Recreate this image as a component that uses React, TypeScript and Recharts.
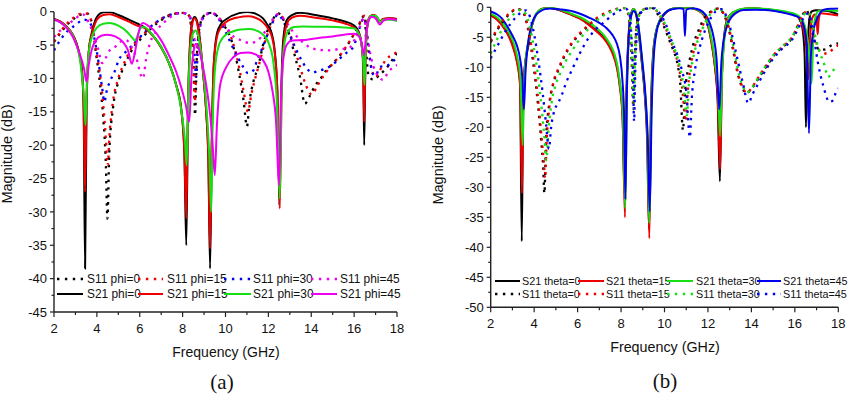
import React from 'react';
import { LineChart, Line, XAxis, YAxis } from 'recharts';

type P = [number, number][];

// ---------- tick values ----------
const freqTicks = [2, 3, 4, 5, 6, 7, 8, 9, 10, 11, 12, 13, 14, 15, 16, 17, 18];
const magTicksA = [0, -2.5, -5, -7.5, -10, -12.5, -15, -17.5, -20, -22.5, -25, -27.5, -30, -32.5, -35, -37.5, -40, -42.5, -45];
const magTicksB = [0, -2.5, -5, -7.5, -10, -12.5, -15, -17.5, -20, -22.5, -25, -27.5, -30, -32.5, -35, -37.5, -40, -42.5, -45, -47.5, -50];

// ---------- panel (a): phi ----------
const s11Phi0: P = [[2.0,-4.5],[2.3,-3.2],[2.6,-2],[3.0,-0.9],[3.3,-0.4],[3.55,-0.3],[3.75,-1.5],[3.95,-6],[4.15,-11],[4.3,-16],[4.42,-23],[4.49,-31],[4.58,-21],[4.75,-14.5],[5.0,-10.5],[5.3,-8],[5.7,-5.4],[6.17,-3.7],[6.5,-2.6],[6.8,-1.75],[7.2,-0.9],[7.56,-0.35],[8.1,-0.15],[8.3,-0.6],[8.42,-3],[8.52,-9],[8.58,-15.5],[8.65,-8],[8.78,-2.5],[9.0,-0.6],[9.35,-0.15],[9.7,-1],[10.0,-2.4],[10.3,-4.5],[10.6,-8.7],[10.85,-13.5],[11.0,-17.2],[11.12,-13.5],[11.3,-10.5],[11.53,-8.2],[11.75,-5],[11.92,-3.2],[12.2,-1.2],[12.46,-0.25],[12.7,-1.2],[13.0,-3.7],[13.25,-6.8],[13.47,-9.7],[13.7,-13.8],[13.9,-12.8],[14.2,-11],[14.4,-10.2],[14.7,-8.8],[15.03,-7.7],[15.35,-6.5],[15.65,-5.2],[15.95,-3.6],[16.2,-2.2],[16.4,-0.8],[16.5,-0.6],[16.58,-6.5],[16.67,-9.5],[16.9,-10.2],[17.2,-9.4],[17.44,-8.7],[17.83,-7],[18,-6.2]];
const s11Phi15: P = [[2.0,-4.5],[2.3,-3],[2.6,-1.8],[3.0,-0.7],[3.3,-0.3],[3.55,-0.3],[3.75,-1.5],[3.95,-5.5],[4.15,-9.5],[4.3,-14],[4.42,-19],[4.5,-23],[4.6,-18],[4.75,-13.5],[5.0,-10],[5.3,-7.5],[5.7,-5],[6.17,-3.4],[6.5,-2.3],[6.8,-1.5],[7.2,-0.7],[7.56,-0.3],[8.1,-0.15],[8.3,-0.6],[8.42,-3],[8.5,-8],[8.57,-13.5],[8.65,-7.5],[8.78,-2.5],[9.0,-0.6],[9.35,-0.15],[9.7,-0.9],[10.0,-2.2],[10.3,-4.2],[10.6,-7.8],[10.85,-12],[11.05,-15],[11.2,-12.5],[11.4,-9.8],[11.6,-7.5],[11.8,-5],[12.0,-3],[12.25,-1.2],[12.48,-0.3],[12.75,-1.3],[13.0,-3.2],[13.25,-5.8],[13.5,-8.5],[13.75,-11],[14.02,-12.4],[14.3,-11],[14.6,-9.5],[15.0,-7.8],[15.35,-6.5],[15.65,-5.1],[15.95,-3.6],[16.2,-2.1],[16.4,-0.8],[16.5,-0.6],[16.6,-4],[16.75,-7.5],[17.0,-9.8],[17.2,-8.8],[17.52,-7],[17.8,-6.5],[18,-6]];
const s11Phi30: P = [[2.0,-5.8],[2.3,-4.2],[2.6,-3],[3.0,-2],[3.4,-1.2],[3.65,-1.5],[3.85,-3.5],[4.05,-7],[4.25,-11.5],[4.35,-13.5],[4.45,-12],[4.6,-10.5],[4.8,-9.2],[5.03,-7.2],[5.42,-5.8],[5.8,-4.5],[6.2,-3.2],[6.6,-2],[7.0,-1.1],[7.5,-0.4],[8.0,-0.2],[8.3,-0.6],[8.45,-2.5],[8.55,-6],[8.63,-9.8],[8.72,-5],[8.85,-1.8],[9.1,-0.4],[9.35,-0.15],[9.7,-1.2],[10.0,-3],[10.36,-5.5],[10.6,-7],[10.83,-8.3],[11.05,-9.2],[11.3,-8.8],[11.5,-7],[11.7,-5.6],[11.95,-3.5],[12.2,-1.6],[12.45,-0.4],[12.7,-1.5],[13.0,-3.5],[13.3,-5.7],[13.55,-7.3],[13.79,-8.5],[14.05,-9.1],[14.3,-8.9],[14.6,-8.6],[14.87,-8.2],[15.34,-7],[15.7,-6],[15.96,-5.3],[16.2,-3],[16.45,-1],[16.55,-2],[16.7,-6],[16.85,-9.2],[17.0,-9.6],[17.2,-8.3],[17.6,-8],[17.9,-7.2],[18,-7]];
const s11Phi45: P = [[2.0,-3.8],[2.3,-2.8],[2.64,-2],[3.0,-1],[3.35,-0.4],[3.6,-1.5],[3.85,-3.5],[4.05,-5.5],[4.25,-7.7],[4.4,-7],[4.6,-5.8],[4.88,-5.2],[5.1,-4.5],[5.34,-4.2],[5.6,-5.2],[5.85,-7],[6.05,-9.5],[6.15,-10],[6.3,-7],[6.5,-4.5],[6.8,-2.8],[7.2,-1.4],[7.6,-0.5],[8.0,-0.2],[8.3,-0.5],[8.45,-2],[8.6,-4.2],[8.75,-2.5],[8.95,-0.9],[9.35,-0.2],[9.7,-1],[10.1,-2.6],[10.4,-3.8],[10.67,-4.2],[11.14,-4.7],[11.5,-4.3],[11.8,-3.2],[12.1,-1.6],[12.45,-0.4],[12.75,-1.2],[13.1,-2.8],[13.47,-4.2],[13.86,-5.2],[14.33,-5.7],[14.8,-5.8],[15.3,-5.6],[15.73,-5.5],[16.05,-4],[16.3,-2],[16.45,-1],[16.6,-3.5],[16.8,-7],[17.0,-9],[17.35,-10.2],[17.6,-9],[18,-8]];

const s21Phi0: P = [[2.0,-1.1],[2.3,-1.5],[2.6,-2.3],[2.85,-3.3],[3.05,-4.7],[3.2,-6.5],[3.3,-8.5],[3.38,-14],[3.45,-38.5],[3.52,-14],[3.62,-6],[3.76,-3.2],[3.9,-1.5],[4.0,-0.8],[4.3,-0.1],[4.6,-0.05],[5.0,-0.5],[5.5,-1.2],[5.9,-1.8],[6.2,-2.3],[6.6,-3.5],[7.0,-5.3],[7.4,-8],[7.7,-11],[7.95,-15],[8.08,-21],[8.17,-35],[8.25,-15],[8.35,-4.5],[8.45,-1.5],[8.56,-0.8],[8.68,-1.5],[8.8,-4],[8.95,-9],[9.1,-15],[9.2,-22],[9.28,-38.5],[9.36,-20],[9.45,-8],[9.6,-3.3],[9.8,-1.8],[10.05,-1.1],[10.6,-0.25],[11.05,-0.05],[11.4,-0.3],[11.75,-1],[12.0,-2.2],[12.15,-3.2],[12.3,-6],[12.42,-12],[12.51,-29],[12.6,-12],[12.7,-4],[12.85,-1.3],[13.1,-0.5],[13.47,-0.15],[14.2,-0.5],[15.0,-1],[15.6,-1.5],[15.96,-2],[16.2,-2.9],[16.33,-4.5],[16.42,-8],[16.47,-20],[16.53,-7],[16.62,-2],[16.75,-0.7],[16.9,-0.5],[17.05,-0.8],[17.2,-1.5],[17.35,-1.1],[17.7,-1.0],[18,-1.1]];
const s21Phi15: P = [[2.0,-1.1],[2.3,-1.5],[2.6,-2.3],[2.85,-3.3],[3.05,-4.8],[3.2,-6.7],[3.3,-9],[3.38,-14],[3.45,-27],[3.52,-13],[3.62,-6],[3.76,-3.4],[3.9,-1.9],[4.0,-1.2],[4.3,-0.5],[4.6,-0.4],[5.0,-0.8],[5.5,-1.5],[5.9,-2.1],[6.2,-2.4],[6.6,-3.6],[7.0,-5.4],[7.4,-8],[7.7,-11],[7.95,-15],[8.08,-21],[8.17,-31],[8.25,-14],[8.35,-4.6],[8.45,-1.8],[8.56,-1.0],[8.68,-1.8],[8.8,-4.2],[8.95,-9],[9.1,-15],[9.2,-22],[9.28,-35.5],[9.36,-19],[9.45,-8.2],[9.6,-3.8],[9.8,-2.3],[10.05,-1.5],[10.6,-0.85],[11.05,-0.7],[11.4,-0.9],[11.75,-1.6],[12.0,-2.6],[12.15,-3.6],[12.3,-6.3],[12.42,-12],[12.53,-29.5],[12.62,-12],[12.72,-4.5],[12.87,-1.8],[13.1,-0.9],[13.47,-0.6],[14.2,-0.9],[15.0,-1.3],[15.6,-1.8],[15.96,-2.3],[16.2,-3.1],[16.33,-4.6],[16.42,-7.5],[16.47,-16.5],[16.53,-7],[16.62,-2],[16.75,-0.7],[16.9,-0.5],[17.05,-0.8],[17.2,-1.5],[17.35,-1.1],[17.7,-1.0],[18,-1.1]];
const s21Phi30: P = [[2.0,-1.2],[2.3,-1.6],[2.6,-2.4],[2.85,-3.4],[3.05,-5],[3.2,-7],[3.3,-9.5],[3.4,-13],[3.47,-17],[3.54,-10],[3.65,-5.5],[3.8,-3.5],[4.0,-2.4],[4.3,-1.8],[4.6,-1.7],[5.0,-2.1],[5.4,-3],[5.65,-3.9],[5.78,-4.3],[5.9,-3.6],[6.05,-2.4],[6.2,-2.3],[6.6,-3.5],[7.0,-5.3],[7.4,-8],[7.7,-11],[7.95,-15],[8.1,-19],[8.19,-23],[8.27,-12],[8.37,-5.5],[8.48,-3.3],[8.6,-2.8],[8.72,-3.5],[8.85,-6],[9.0,-10],[9.15,-16],[9.25,-22],[9.33,-30],[9.4,-17],[9.5,-9],[9.65,-5.5],[9.9,-3.8],[10.3,-3],[10.7,-2.65],[11.1,-2.6],[11.5,-2.9],[11.8,-3.6],[12.05,-5],[12.25,-8],[12.4,-14],[12.53,-28],[12.62,-12],[12.72,-5.5],[12.9,-3],[13.2,-2.3],[13.6,-2.2],[14.5,-2.25],[15.5,-2.35],[16.0,-2.5],[16.2,-3.2],[16.33,-4.6],[16.42,-7],[16.48,-11],[16.55,-5],[16.65,-1.5],[16.8,-0.6],[16.95,-0.6],[17.1,-0.9],[17.22,-1.6],[17.35,-1.2],[17.7,-1.2],[18,-1.4]];
const s21Phi45: P = [[2.0,-1.2],[2.3,-1.6],[2.6,-2.5],[2.85,-3.6],[3.05,-5],[3.25,-6.8],[3.4,-8.5],[3.52,-10.5],[3.62,-8],[3.75,-5.8],[3.95,-4.3],[4.2,-3.6],[4.5,-3.45],[4.85,-3.7],[5.2,-4.5],[5.45,-5.8],[5.63,-7.8],[5.78,-6],[5.92,-3.5],[6.05,-2],[6.15,-1.7],[6.35,-2],[6.66,-2.8],[7.0,-4.3],[7.4,-6.8],[7.7,-9],[7.95,-11.5],[8.15,-14],[8.31,-16.5],[8.42,-9],[8.52,-5.7],[8.62,-4.8],[8.75,-5.5],[8.9,-7.5],[9.1,-11],[9.3,-16],[9.42,-21],[9.5,-24.5],[9.6,-17],[9.75,-11],[10.05,-8.2],[10.37,-6.8],[10.7,-6.2],[11.06,-6.1],[11.4,-6.4],[11.76,-7.3],[12.0,-9],[12.2,-12],[12.35,-16],[12.5,-26],[12.58,-14],[12.68,-7.5],[12.85,-5],[13.1,-4.3],[13.6,-4.25],[14.4,-3.9],[15.0,-3.7],[15.6,-3.4],[16.0,-3.3],[16.2,-3.6],[16.35,-4.6],[16.46,-6.5],[16.56,-3.5],[16.68,-1.3],[16.82,-0.75],[17.0,-1],[17.2,-1.9],[17.35,-1.4],[17.6,-1.1],[18,-1.2]];

// ---------- panel (b): theta ----------
const s21Theta0: P = [[2.0,-1.3],[2.3,-2],[2.58,-3.2],[2.85,-4.8],[3.04,-6.6],[3.2,-8.8],[3.35,-12.5],[3.43,-39],[3.5,-14],[3.6,-9],[3.73,-6.5],[3.89,-3.2],[4.05,-1.5],[4.2,-0.7],[4.42,-0.2],[4.7,-0.1],[5.0,-0.3],[5.34,-0.7],[5.7,-1.2],[6.1,-1.8],[6.57,-3],[6.9,-4],[7.18,-4.9],[7.45,-6.3],[7.64,-7.7],[7.82,-10],[7.95,-13],[8.07,-18],[8.17,-32],[8.25,-14],[8.35,-4.5],[8.45,-1.3],[8.57,-0.3],[8.7,-1.3],[8.82,-4.5],[8.95,-9],[9.1,-15],[9.2,-22],[9.29,-37],[9.37,-18],[9.47,-8],[9.6,-4.2],[9.8,-2.1],[10.05,-0.9],[10.4,-0.2],[10.8,-0.05],[11.2,-0.1],[11.5,-0.4],[11.78,-1.1],[11.95,-2.2],[12.09,-4.4],[12.22,-7],[12.32,-9.9],[12.45,-16],[12.55,-29],[12.63,-13],[12.72,-6],[12.86,-2.3],[13.05,-1.2],[13.32,-0.6],[13.7,-0.25],[14.08,-0.15],[14.6,-0.3],[15.2,-0.6],[15.7,-0.9],[16.0,-1.2],[16.2,-1.8],[16.35,-3.5],[16.45,-8],[16.51,-20],[16.58,-8],[16.67,-2],[16.77,-0.7],[17.0,-0.5],[17.5,-0.6],[17.8,-0.9],[18,-1.2]];
const s21Theta15: P = [[2.0,-1.4],[2.3,-2.1],[2.58,-3.3],[2.85,-5],[3.04,-6.8],[3.2,-9],[3.35,-13],[3.44,-31],[3.51,-13],[3.61,-8.5],[3.74,-6],[3.9,-3],[4.05,-1.4],[4.2,-0.6],[4.45,-0.15],[4.75,-0.1],[5.05,-0.35],[5.4,-0.8],[5.75,-1.3],[6.1,-1.9],[6.57,-3.1],[6.9,-4.1],[7.18,-5.1],[7.45,-6.5],[7.64,-8],[7.82,-10.3],[7.95,-13.5],[8.07,-18.5],[8.18,-35],[8.26,-14],[8.36,-4.5],[8.46,-1.3],[8.58,-0.3],[8.71,-1.3],[8.83,-4.5],[8.96,-9],[9.11,-15],[9.21,-22],[9.3,-38.5],[9.38,-18],[9.48,-8],[9.61,-4.2],[9.81,-2.1],[10.06,-0.9],[10.4,-0.2],[10.8,-0.05],[11.2,-0.1],[11.5,-0.45],[11.78,-1.2],[11.95,-2.3],[12.09,-4.5],[12.22,-7.2],[12.33,-10],[12.45,-15],[12.56,-27],[12.64,-12.5],[12.73,-6],[12.87,-2.4],[13.05,-1.2],[13.32,-0.6],[13.7,-0.2],[14.08,-0.1],[14.6,-0.3],[15.2,-0.6],[15.7,-1],[16.0,-1.3],[16.2,-1.9],[16.38,-3.5],[16.52,-6.5],[16.62,-12],[16.7,-5],[16.8,-1.8],[16.92,-1.2],[17.0,-2],[17.05,-4.5],[17.1,-2],[17.2,-1],[17.5,-1.1],[18,-1.35]];
const s21Theta30: P = [[2.0,-1.1],[2.3,-1.7],[2.58,-2.8],[2.85,-4.3],[3.06,-6],[3.22,-8.2],[3.37,-12],[3.47,-23],[3.55,-12],[3.65,-7.5],[3.78,-5],[3.93,-2.6],[4.08,-1.2],[4.25,-0.5],[4.5,-0.15],[4.8,-0.1],[5.1,-0.3],[5.45,-0.7],[5.8,-1.2],[6.15,-1.7],[6.6,-2.7],[6.95,-3.7],[7.22,-4.7],[7.5,-6.2],[7.68,-7.6],[7.85,-10],[7.98,-13.5],[8.09,-18.5],[8.19,-33.5],[8.27,-14],[8.37,-4.5],[8.47,-1.3],[8.59,-0.3],[8.72,-1.3],[8.84,-4.5],[8.97,-9],[9.12,-15],[9.22,-22],[9.3,-36],[9.39,-18],[9.49,-8],[9.62,-4],[9.82,-1.9],[10.07,-0.8],[10.4,-0.2],[10.8,-0.05],[11.2,-0.1],[11.5,-0.4],[11.8,-1.1],[11.97,-2.2],[12.11,-4.3],[12.24,-6.8],[12.35,-9.8],[12.47,-14],[12.56,-21.5],[12.65,-11],[12.75,-5.5],[12.89,-2.2],[13.07,-1.1],[13.34,-0.5],[13.7,-0.2],[14.1,-0.1],[14.6,-0.25],[15.2,-0.5],[15.7,-0.8],[16.0,-1.1],[16.25,-1.7],[16.45,-3],[16.62,-6],[16.77,-12.7],[16.85,-5],[16.95,-1.5],[17.1,-0.6],[17.5,-0.5],[18,-0.6]];
const s21Theta45: P = [[2.0,-0.7],[2.3,-1.2],[2.5,-1.8],[2.73,-3],[3.0,-4.7],[3.2,-6.3],[3.35,-8.5],[3.45,-11.5],[3.53,-17],[3.6,-11],[3.7,-6.5],[3.82,-3.8],[3.96,-2.1],[4.1,-1.2],[4.27,-0.7],[4.5,-0.3],[4.73,-0.2],[5.2,-0.35],[5.8,-0.7],[6.2,-1.2],[6.57,-1.8],[7.0,-2.6],[7.34,-3.5],[7.6,-4.6],[7.8,-6],[7.95,-8.2],[8.06,-12],[8.14,-18],[8.2,-32],[8.27,-14],[8.36,-4.5],[8.46,-1.5],[8.58,-0.6],[8.72,-1.4],[8.85,-4.5],[8.98,-9],[9.13,-15],[9.23,-22],[9.32,-34],[9.41,-17],[9.51,-8],[9.64,-4],[9.8,-2.2],[9.94,-1.3],[10.15,-0.6],[10.4,-0.3],[10.7,-0.15],[10.88,-0.3],[10.94,-4.8],[11.0,-0.4],[11.3,-0.15],[11.63,-0.45],[11.9,-1.3],[12.09,-2.7],[12.25,-4.8],[12.4,-8.8],[12.52,-17],[12.62,-9],[12.7,-6],[12.78,-4.4],[12.93,-2.6],[13.09,-1.6],[13.35,-0.8],[13.63,-0.45],[14.2,-0.4],[14.8,-0.5],[15.2,-0.7],[15.7,-1.1],[16.0,-1.4],[16.23,-1.8],[16.4,-3],[16.54,-6],[16.65,-21],[16.74,-8],[16.85,-4],[17.0,-2.1],[17.15,-1],[17.3,-0.45],[17.6,-0.25],[18,-0.2]];

const s11Theta0: P = [[2.0,-5.8],[2.3,-3.8],[2.6,-2.2],[2.9,-1],[3.2,-0.3],[3.45,-0.6],[3.65,-2.5],[3.85,-6.5],[4.05,-12],[4.2,-17],[4.32,-22],[4.42,-27],[4.47,-31],[4.55,-22],[4.7,-16],[4.9,-12.5],[5.11,-10.5],[5.35,-8.5],[5.57,-7],[5.85,-5.5],[6.19,-4.2],[6.55,-2.9],[6.95,-1.7],[7.3,-1],[7.57,-0.6],[8.1,-0.1],[8.3,-0.8],[8.42,-4],[8.5,-10],[8.57,-17],[8.63,-9],[8.72,-3],[8.9,-0.8],[9.15,-0.2],[9.4,-0.1],[9.7,-1.2],[9.95,-3],[10.2,-5.3],[10.4,-7.1],[10.6,-9.5],[10.72,-12.5],[10.85,-20.5],[10.95,-14],[11.1,-10],[11.3,-6.5],[11.55,-4],[11.8,-2],[12.1,-0.8],[12.45,-0.2],[12.7,-1],[12.95,-3.5],[13.15,-7],[13.4,-11.5],[13.6,-13.5],[13.75,-14.4],[13.95,-13.8],[14.3,-12],[14.7,-9.8],[15.08,-7.8],[15.45,-6.6],[15.85,-5.2],[16.15,-3],[16.4,-1],[16.55,-0.5],[16.7,-2.5],[16.9,-5.5],[17.15,-7.1],[17.4,-7],[17.7,-6.3],[18,-6]];
const s11Theta15: P = [[2.0,-5.6],[2.3,-3.6],[2.6,-2],[2.9,-0.9],[3.2,-0.3],[3.45,-0.5],[3.65,-2.3],[3.85,-6],[4.05,-11],[4.2,-16],[4.35,-22],[4.45,-26],[4.5,-28.5],[4.58,-22],[4.72,-16],[4.9,-12.3],[5.11,-10.3],[5.35,-8.3],[5.57,-6.8],[5.85,-5.3],[6.19,-4],[6.55,-2.8],[6.95,-1.6],[7.3,-0.9],[7.57,-0.5],[8.1,-0.1],[8.3,-0.8],[8.42,-4],[8.5,-9],[8.57,-16],[8.63,-8.5],[8.72,-3],[8.9,-0.8],[9.2,-0.15],[9.45,-0.1],[9.75,-1.2],[10.0,-3],[10.25,-5.3],[10.45,-7.3],[10.65,-9.8],[10.8,-13],[10.98,-19],[11.08,-13.5],[11.2,-10],[11.4,-6.5],[11.65,-4],[11.9,-2],[12.15,-0.8],[12.48,-0.2],[12.72,-1],[12.97,-3.5],[13.17,-7],[13.42,-11.5],[13.62,-13.5],[13.78,-14.3],[13.98,-13.6],[14.3,-11.8],[14.7,-9.6],[15.08,-7.7],[15.45,-6.5],[15.85,-5.1],[16.15,-3],[16.4,-1.1],[16.6,-0.6],[16.78,-3],[17.0,-6],[17.2,-7.5],[17.46,-7.7],[17.75,-7],[18,-6.3]];
const s11Theta30: P = [[2.0,-7.7],[2.3,-5.3],[2.6,-3.2],[2.9,-1.7],[3.2,-0.8],[3.4,-0.4],[3.6,-1],[3.8,-3.2],[4.0,-7],[4.18,-11.5],[4.35,-17],[4.48,-22],[4.56,-25.5],[4.65,-21],[4.8,-16],[5.0,-12.8],[5.2,-11],[5.45,-9],[5.7,-7.5],[6.0,-5.8],[6.35,-4.2],[6.75,-2.7],[7.1,-1.6],[7.45,-0.9],[7.8,-0.4],[8.15,-0.1],[8.33,-0.8],[8.45,-4],[8.52,-9],[8.58,-16],[8.65,-8.5],[8.75,-3],[8.9,-0.8],[9.2,-0.15],[9.45,-0.1],[9.8,-1.3],[10.05,-3],[10.3,-5.3],[10.5,-7.3],[10.7,-9.8],[10.87,-13],[11.03,-18],[11.12,-13],[11.25,-9.8],[11.45,-6.5],[11.7,-4],[11.95,-2],[12.2,-0.8],[12.5,-0.2],[12.75,-1.1],[13.0,-3.6],[13.2,-7],[13.45,-11.5],[13.65,-13.5],[13.8,-14.2],[14.0,-13.5],[14.3,-11.8],[14.7,-9.5],[15.08,-7.7],[15.45,-6.4],[15.85,-5],[16.15,-3.2],[16.4,-1.3],[16.62,-0.8],[16.85,-3.5],[17.1,-7],[17.35,-9.5],[17.53,-11.6],[17.77,-10.5],[18,-9.8]];
const s11Theta45: P = [[2.0,-8.5],[2.3,-6.5],[2.6,-4.5],[2.9,-2.8],[3.2,-1.5],[3.45,-0.7],[3.62,-0.5],[3.8,-1.5],[4.0,-4.5],[4.2,-9],[4.4,-14.5],[4.55,-19.5],[4.68,-23.6],[4.78,-20],[4.95,-17],[5.1,-16],[5.26,-14.7],[5.5,-12.3],[5.73,-10.5],[6.1,-7.7],[6.49,-5.2],[6.85,-3.6],[7.25,-2.4],[7.6,-1.3],[7.95,-0.5],[8.2,-0.2],[8.38,-1],[8.48,-5],[8.55,-11],[8.6,-19],[8.66,-10],[8.75,-3.5],[8.9,-1],[9.2,-0.2],[9.5,-0.1],[9.85,-1.4],[10.1,-3.2],[10.35,-5.8],[10.6,-8],[10.8,-10.5],[11.0,-14],[11.17,-21.7],[11.26,-15],[11.4,-10.5],[11.6,-7],[11.85,-4],[12.1,-2],[12.35,-0.7],[12.6,-0.3],[12.85,-1.5],[13.1,-4.5],[13.35,-8.5],[13.6,-12.5],[13.86,-16],[14.05,-14.5],[14.3,-12.8],[14.7,-10.2],[15.08,-8.2],[15.45,-6.8],[15.85,-5.5],[16.15,-3.6],[16.4,-1.8],[16.62,-1],[16.85,-4.5],[17.05,-9],[17.3,-13],[17.6,-15.8],[17.75,-15.5],[17.93,-13.8],[18,-13.5]];

// ---------- series tables ----------
const BLACK = '#000000';
const RED = '#ee0000';
const GREEN = '#14e014';
const MAGENTA = '#f000f0';
const BLUE = '#0000f0';

type Series = { name: string; pts: P; color: string; dotted: boolean };

const seriesA: Series[] = [
  { name: 'S11 phi=0', pts: s11Phi0, color: BLACK, dotted: true },
  { name: 'S11 phi=15', pts: s11Phi15, color: RED, dotted: true },
  { name: 'S11 phi=30', pts: s11Phi30, color: BLUE, dotted: true },
  { name: 'S11 phi=45', pts: s11Phi45, color: MAGENTA, dotted: true },
  { name: 'S21 phi=0', pts: s21Phi0, color: BLACK, dotted: false },
  { name: 'S21 phi=15', pts: s21Phi15, color: RED, dotted: false },
  { name: 'S21 phi=30', pts: s21Phi30, color: GREEN, dotted: false },
  { name: 'S21 phi=45', pts: s21Phi45, color: MAGENTA, dotted: false },
];

const seriesB: Series[] = [
  { name: 'S21 theta=0', pts: s21Theta0, color: BLACK, dotted: false },
  { name: 'S21 theta=15', pts: s21Theta15, color: RED, dotted: false },
  { name: 'S21 theta=30', pts: s21Theta30, color: GREEN, dotted: false },
  { name: 'S21 theta=45', pts: s21Theta45, color: BLUE, dotted: false },
  { name: 'S11 theta=0', pts: s11Theta0, color: BLACK, dotted: true },
  { name: 'S11 theta=15', pts: s11Theta15, color: RED, dotted: true },
  { name: 'S11 theta=30', pts: s11Theta30, color: GREEN, dotted: true },
  { name: 'S11 theta=45', pts: s11Theta45, color: BLUE, dotted: true },
];

const FONT = '"Liberation Sans", Arial, Helvetica, sans-serif';
const SERIF = '"Liberation Serif", "Times New Roman", serif';
const AXIS = '#222';
const DOT_DASH = '2.4 5';

const toRows = (pts: P) => pts.map(([f, v]) => ({ f, v }));

const XTick = (props: any) => {
  const { x, y, payload } = props;
  const major = payload.value % 2 === 0;
  return (
    <g>
      <line x1={x} y1={y} x2={x} y2={y + (major ? 5 : 3)} stroke={AXIS} strokeWidth={1.2} />
      {major && (
        <text x={x} y={y + 20.5} textAnchor="middle" fontSize={13} fontFamily={FONT} fill="#111">
          {payload.value}
        </text>
      )}
    </g>
  );
};

const YTick = (props: any) => {
  const { x, y, payload } = props;
  const major = payload.value % 5 === 0;
  return (
    <g>
      <line x1={x} y1={y} x2={x - (major ? 4 : 2.5)} y2={y} stroke={AXIS} strokeWidth={1.2} />
      {major && (
        <text x={x - 7} y={y + 4.6} textAnchor="end" fontSize={13} fontFamily={FONT} fill="#111">
          {payload.value}
        </text>
      )}
    </g>
  );
};

type PanelProps = {
  series: Series[];
  left: number;
  yTicks: number[];
  yMin: number;
  yAxisWidth: number;
  margin: { top: number; right: number; bottom: number; left: number };
};

const Panel = ({ series, left, yTicks, yMin, yAxisWidth, margin }: PanelProps) => (
  <div style={{ position: 'absolute', left, top: 0, width: 425, height: 397 }}>
    <LineChart width={425} height={397} margin={margin}>
      <XAxis
        dataKey="f"
        type="number"
        domain={[2, 18]}
        ticks={freqTicks}
        interval={0}
        allowDataOverflow
        height={30}
        tickSize={0}
        tickMargin={0}
        tickLine={false}
        tick={<XTick />}
        axisLine={{ stroke: AXIS, strokeWidth: 1.4 }}
      />
      <YAxis
        type="number"
        domain={[yMin, 0]}
        ticks={yTicks}
        interval={0}
        allowDataOverflow
        width={yAxisWidth}
        tickSize={0}
        tickMargin={0}
        tickLine={false}
        tick={<YTick />}
        axisLine={{ stroke: AXIS, strokeWidth: 1.4 }}
      />
      {series.map((s) => (
        <Line
          key={s.name}
          name={s.name}
          data={toRows(s.pts)}
          dataKey="v"
          type="monotone"
          stroke={s.color}
          strokeWidth={s.dotted ? 2.3 : 2}
          strokeDasharray={s.dotted ? DOT_DASH : undefined}
          strokeLinecap="butt"
          dot={false}
          activeDot={false}
          isAnimationActive={false}
        />
      ))}
    </LineChart>
  </div>
);

type LegendLayout = { rows: number[]; lineX: [number, number][]; textX: number[]; fontSize: number };

const legendA: LegendLayout = {
  rows: [279, 294],
  lineX: [[57, 83], [138, 163], [224, 251], [311, 337]],
  textX: [87, 167, 253, 340],
  fontSize: 11.9,
};
const legendB: LegendLayout = {
  rows: [281, 294],
  lineX: [[495, 520], [578, 604], [667, 693], [757, 781]],
  textX: [522, 606, 696, 783],
  fontSize: 10.8,
};

const LegendBlock = ({ series, layout }: { series: Series[]; layout: LegendLayout }) => (
  <g>
    {series.map((s, i) => {
      const row = Math.floor(i / 4);
      const col = i % 4;
      const y = layout.rows[row];
      const [x1, x2] = layout.lineX[col];
      return (
        <g key={s.name}>
          <line
            x1={x1}
            y1={y}
            x2={x2}
            y2={y}
            stroke={s.color}
            strokeWidth={s.dotted ? 2.3 : 2}
            strokeDasharray={s.dotted ? '2.4 5.5' : undefined}
          />
          <text x={layout.textX[col]} y={y + 4.2} fontSize={layout.fontSize} fontFamily={FONT} fill="#111">
            {s.name}
          </text>
        </g>
      );
    })}
  </g>
);

export default function App() {
  return (
    <div style={{ position: 'absolute', left: 0, top: 0, width: 850, height: 397, background: '#fff', overflow: 'hidden' }}>
      <Panel
        series={seriesA}
        left={0}
        yTicks={magTicksA}
        yMin={-45}
        yAxisWidth={54}
        margin={{ top: 11.7, right: 28, bottom: 55, left: 0 }}
      />
      <Panel
        series={seriesB}
        left={425}
        yTicks={magTicksB}
        yMin={-50}
        yAxisWidth={65.7}
        margin={{ top: 7.3, right: 11.7, bottom: 59.7, left: 0 }}
      />
      <svg width={850} height={397} style={{ position: 'absolute', left: 0, top: 0, pointerEvents: 'none' }}>
        <LegendBlock series={seriesA} layout={legendA} />
        <LegendBlock series={seriesB} layout={legendB} />
        <text x={226} y={357} textAnchor="middle" fontSize={14} fontFamily={FONT} fill="#111">Frequency (GHz)</text>
        <text x={665} y={352} textAnchor="middle" fontSize={14.3} fontFamily={FONT} fill="#111">Frequency (GHz)</text>
        <text x={12} y={154} textAnchor="middle" fontSize={14.5} fontFamily={FONT} fill="#111" transform="rotate(-90 12 154)">Magnitude (dB)</text>
        <text x={443} y={155} textAnchor="middle" fontSize={14.5} fontFamily={FONT} fill="#111" transform="rotate(-90 443 155)">Magnitude (dB)</text>
        <text x={222} y={389} textAnchor="middle" fontSize={21} fontFamily={SERIF} fill="#111">(a)</text>
        <text x={665} y={388} textAnchor="middle" fontSize={21} fontFamily={SERIF} fill="#111">(b)</text>
      </svg>
    </div>
  );
}
